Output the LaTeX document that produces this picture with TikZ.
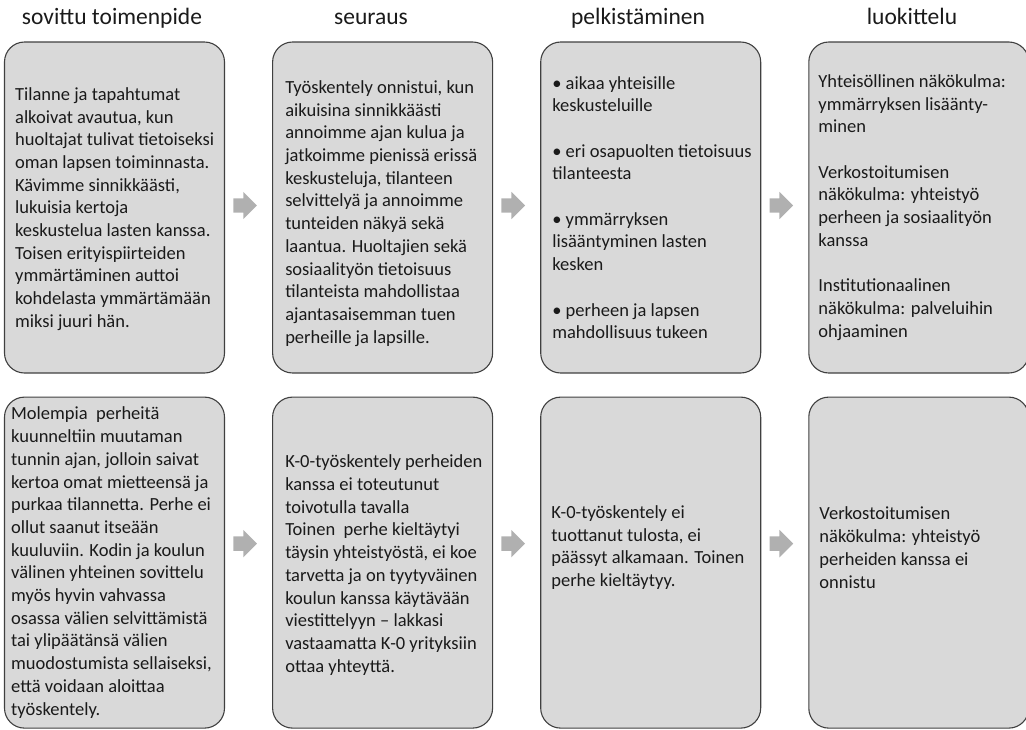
\documentclass[tikz,border=0pt]{standalone}
\usepackage{fontspec}
\setmainfont{Carlito}
\usetikzlibrary{positioning, calc, shapes.arrows}
\definecolor{boxfill}{HTML}{D9D9D9}
\definecolor{boxline}{HTML}{404040}
\definecolor{arrowfill}{HTML}{B0B0B0}
\definecolor{textmain}{HTML}{1A1A1A}

\begin{document}
\begin{tikzpicture}[
    x=1pt, y=-1pt,
    node distance=47pt,
    box/.style={rectangle, draw=boxline, line width=1.1pt, fill=boxfill,
                rounded corners=20pt, minimum width=220pt, minimum height=331pt, inner sep=0pt},
    txt/.style={anchor=west, align=left, inner sep=0pt, text=textmain,
                font=\fontsize{18.5}{22.7}\selectfont},
    head/.style={anchor=base, inner sep=0pt, text=textmain, font=\fontsize{23.5}{28}\selectfont},
    blockarrow/.style={single arrow, fill=arrowfill, draw=none, inner xsep=8pt, inner ysep=7pt,
                minimum height=0pt, minimum width=0pt, single arrow head extend=6.5pt}
  ]
  \useasboundingbox (0,0) rectangle (1026,729);

  % column headings
  \node[head] (h1) at (112,24) {sovittu toimenpide};
  \node[head] (h2) at (371,24) {seuraus};
  \node[head] (h3) at (638,24) {pelkistäminen};
  \node[head] (h4) at (912,24) {luokittelu};

  % boxes
  \node[box] (toim1) at (114.5,207.5) {};
  \node[box, right=of toim1] (seur1) {};
  \node[box, right=of seur1] (pelk1) {};
  \node[box, right=of pelk1] (luok1) {};
  \node[box, below=23pt of toim1] (toim2) {};
  \node[box, right=of toim2] (seur2) {};
  \node[box, right=of seur2] (pelk2) {};
  \node[box, right=of pelk2] (luok2) {};

  % arrows between boxes
  \foreach \a/\b in {toim1/seur1, seur1/pelk1, pelk1/luok1}
    \node[blockarrow] (arr-\a) at ($(\a.east)!0.5!(\b.west)+(-7,-2)$) {};
  \foreach \a/\b in {toim2/seur2, seur2/pelk2, pelk2/luok2}
    \node[blockarrow] (arr-\a) at ($(\a.east)!0.5!(\b.west)+(-7,-19)$) {};

  % texts, first row
  \node[txt] (t-toim1) at ([xshift=11pt, yshift=-1.5pt]toim1.west) {Tilanne ja tapahtumat\\
    alkoivat avautua, kun\\ huoltajat tulivat tietoiseksi\\ oman lapsen toiminnasta.\\
    Kävimme sinnikkäästi,\\ lukuisia kertoja\\ keskustelua lasten kanssa.\\
    Toisen erityispiirteiden\\ ymmärtäminen auttoi\\ kohdelasta ymmärtämään\\ miksi juuri hän.};
  \node[txt] (t-seur1) at ([xshift=13pt, yshift=-6pt]seur1.west) {Työskentely onnistui, kun\\
    aikuisina sinnikkäästi\\ annoimme ajan kulua ja\\ jatkoimme pienissä erissä\\
    keskusteluja, tilanteen\\ selvittelyä ja annoimme\\ tunteiden näkyä sekä\\
    laantua. Huoltajien sekä\\ sosiaalityön tietoisuus\\ tilanteista mahdollistaa\\
    ajantasaisemman tuen\\ perheille ja lapsille.};
  \node[txt] (t-pelk1) at ([xshift=12pt]pelk1.west) {• aikaa yhteisille\\ keskusteluille\\[22.7pt]
    • eri osapuolten tietoisuus\\ tilanteesta\\[22.7pt]
    • ymmärryksen\\ lisääntyminen lasten\\ kesken\\[22.7pt]
    • perheen ja lapsen\\ mahdollisuus tukeen};
  \node[txt] (t-luok1) at ([xshift=10pt]luok1.west) {Yhteisöllinen näkökulma:\\
    ymmärryksen lisäänty-\\ minen\\[22.7pt]
    Verkostoitumisen\\ näkökulma: yhteistyö\\ perheen ja sosiaalityön\\ kanssa\\[22.7pt]
    Institutionaalinen\\ näkökulma: palveluihin\\ ohjaaminen};

  % texts, second row
  \node[txt] (t-toim2) at ([xshift=7pt]toim2.west) {Molempia\ \ perheitä\\
    kuunneltiin muutaman\\ tunnin ajan, jolloin saivat\\ kertoa omat mietteensä ja\\
    purkaa tilannetta. Perhe ei\\ ollut saanut itseään\\ kuuluviin. Kodin ja koulun\\
    välinen yhteinen sovittelu\\ myös hyvin vahvassa\\ osassa välien selvittämistä\\
    tai ylipäätänsä välien\\ muodostumista sellaiseksi,\\ että voidaan aloittaa\\ työskentely.};
  \node[txt] (t-seur2) at ([xshift=13pt, yshift=-2.5pt]seur2.west) {K-0-työskentely perheiden\\
    kanssa ei toteutunut\\ toivotulla tavalla\\ Toinen\ \ perhe kieltäytyi\\
    täysin yhteistyöstä, ei koe\\ tarvetta ja on tyytyväinen\\ koulun kanssa käytävään\\
    viestittelyyn – lakkasi\\ vastaamatta K-0 yrityksiin\\ ottaa yhteyttä.};
  \node[txt] (t-pelk2) at ([xshift=11pt, yshift=15pt]pelk2.west) {K-0-työskentely ei\\
    tuottanut tulosta, ei\\ päässyt alkamaan. Toinen\\ perhe kieltäytyy.};
  \node[txt] (t-luok2) at ([xshift=11pt, yshift=15pt]luok2.west) {Verkostoitumisen\\
    näkökulma: yhteistyö\\ perheiden kanssa ei\\ onnistu};
\end{tikzpicture}
\end{document}
